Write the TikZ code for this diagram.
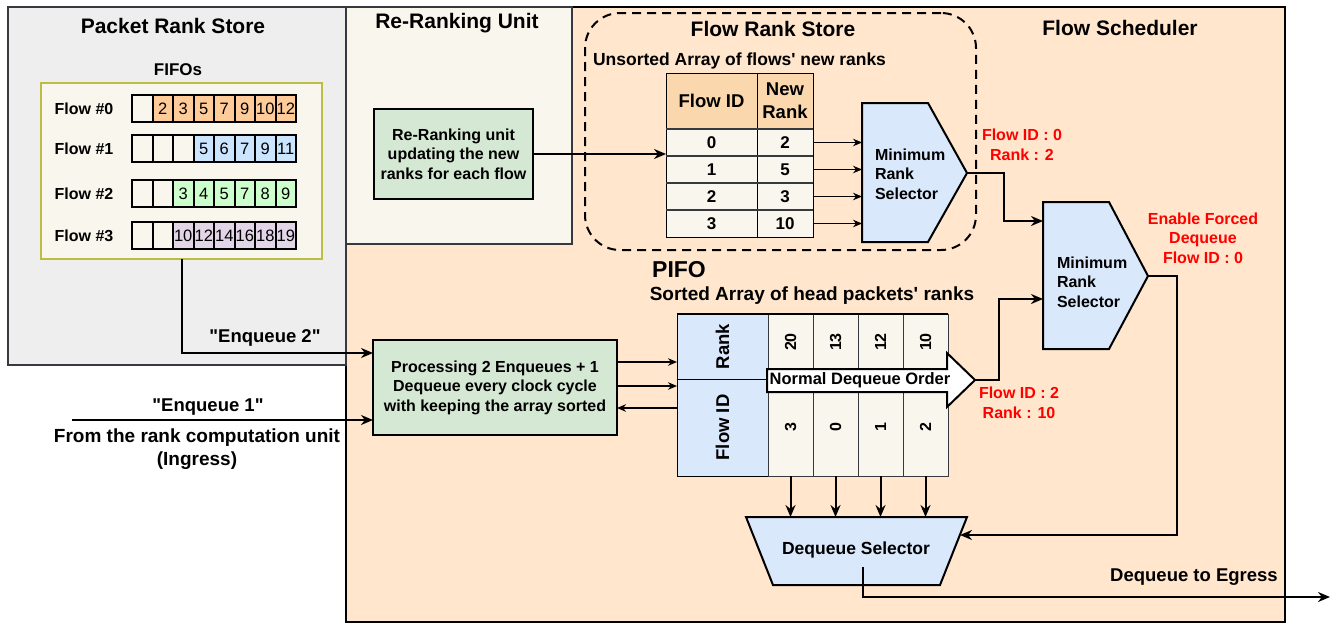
\documentclass[tikz,border=0pt]{standalone}
\usepackage{fontspec}
\setmainfont{Liberation Sans}
\usetikzlibrary{arrows.meta,calc}

\definecolor{prsfill}{HTML}{EEEEEE}
\definecolor{edge}{HTML}{36393D}
\definecolor{cream}{HTML}{F9F7ED}
\definecolor{sched}{HTML}{FFE6CC}
\definecolor{mint}{HTML}{D5E8D4}
\definecolor{sky}{HTML}{DAE8FC}
\definecolor{peach}{HTML}{FAD7AC}
\definecolor{cor}{HTML}{FFCC99}
\definecolor{cbl}{HTML}{CCE5FF}
\definecolor{cgr}{HTML}{CCFFCC}
\definecolor{cpu}{HTML}{E1D5E7}
\definecolor{olivebd}{HTML}{BDBD45}
\definecolor{alert}{HTML}{FF0000}

\begin{document}
\begin{tikzpicture}[x=1pt,y=-1pt,
  every node/.style={inner sep=0pt, outer sep=0pt},
  wall/.style={draw=edge, line width=2pt},
  title/.style={font=\bfseries\fontsize{21}{25}\selectfont},
  lbl/.style={font=\bfseries\fontsize{16}{19.5}\selectfont, align=center},
  lblL/.style={font=\bfseries\fontsize{18.5}{23}\selectfont, align=center},
  alertlbl/.style={lbl, text=alert},
  fcell/.style={draw=black, line width=2pt, minimum width=20.5pt, minimum height=27pt,
                font=\fontsize{16.5}{19}\selectfont},
  tcell/.style={draw=black, line width=1pt, fill=cream, minimum height=27pt,
                font=\bfseries\fontsize{17}{20}\selectfont, anchor=north west},
  arr/.style={line width=2pt, -{Stealth[length=12pt,width=10pt]}},
  tarr/.style={line width=1.2pt, -{Stealth[length=9pt,width=7.5pt]}},
]
\useasboundingbox (0,0) rectangle (1338,625);

% ---- containers ----
\node[draw=black, line width=2.5pt, fill=sched, minimum width=939pt, minimum height=615pt,
      anchor=north west] (fs) at (346,7) {};
\node[wall, fill=prsfill, minimum width=338pt, minimum height=358pt, anchor=north west] (prs) at (8,7) {};
\node[wall, fill=cream, minimum width=226pt, minimum height=237pt, anchor=north west] (rru) at (346,7) {};

\node[title] (prst) at (173,26) {Packet Rank Store};
\node[title] (rrut) at (457,23) {Re-Ranking Unit};
\node[title] (fst) at (1120,28) {Flow Scheduler};

% ---- packet rank store: per-flow FIFOs ----
\node[font=\bfseries\fontsize{17}{20}\selectfont] (fifot) at (178,70) {FIFOs};
\node[draw=olivebd, line width=1.2pt, fill=cream, minimum width=281pt, minimum height=176pt,
      anchor=north west] (fifo) at (41,83) {};
\foreach \row/\yy/\cells in {
  0/95/{cream/{},cor/2,cor/3,cor/5,cor/7,cor/9,cor/10,cor/12},
  1/135/{cream/{},cream/{},cream/{},cbl/5,cbl/6,cbl/7,cbl/9,cbl/11},
  2/180/{cream/{},cream/{},cgr/3,cgr/4,cgr/5,cgr/7,cgr/8,cgr/9},
  3/222/{cream/{},cream/{},cpu/10,cpu/12,cpu/14,cpu/16,cpu/18,cpu/19}}{
  \node[lbl] (fl\row) at (84,\yy+14) {Flow \#\row};
  \foreach \c/\t [count=\i from 0] in \cells {
    \node[fcell, fill=\c] (f\row-\i) at ({142.25+20.5*\i},\yy+13.5) {\t};
  }
}

% ---- re-ranking unit ----
\node[draw=black, line width=2pt, fill=mint, minimum width=159pt, minimum height=90pt, lbl]
  (rr) at (453.5,154) {Re-Ranking unit\\updating the new\\ranks for each flow};

% ---- flow rank store ----
\node[draw=black, line width=2pt, dash pattern=on 9pt off 6pt, rounded corners=35pt,
      minimum width=391pt, minimum height=237pt, anchor=north west] (frs) at (585,13) {};
\node[title] (frst) at (773,29) {Flow Rank Store};
\node[font=\bfseries\fontsize{17.5}{20}\selectfont, anchor=west] (frss) at (593,61)
  {Unsorted Array of flows\textquotesingle{} new ranks};

\node[draw=black, line width=1pt, fill=peach, minimum width=91pt, minimum height=56pt,
      anchor=north west, lblL] (h1) at (666,73) {Flow ID};
\node[draw=black, line width=1pt, fill=peach, minimum width=56pt, minimum height=56pt,
      anchor=north west, lblL] (h2) at (757,73) {New\\Rank};
\foreach \id/\rk [count=\i from 0] in {0/2,1/5,2/3,3/10}{
  \node[tcell, minimum width=91pt] (ra\i) at (666,129+27*\i) {\id};
  \node[tcell, minimum width=56pt] (rb\i) at (757,129+27*\i) {\rk};
  \draw[line width=1.8pt, edge] (ra\i.north west) -- (rb\i.north east);
}

% minimum rank selector (flow ranks)
\coordinate (s1nw) at (862,103);
\coordinate (s1tip) at (967,173);
\draw[line width=2pt, fill=sky] (s1nw) -- (928,103) -- (s1tip) -- (928,242) -- (862,242) -- cycle;
\node[lbl, align=left, anchor=west] (s1txt) at (875,174) {Minimum\\Rank\\Selector};
\foreach \i in {0,...,3}{
  \draw[tarr] (rb\i.east) -- (rb\i.east -| s1nw);
}
\draw[arr] (rr.east) -- (rr.east -| ra0.west);

% minimum rank selector (final)
\coordinate (s2in1) at (1043,221);
\coordinate (s2in2) at (1043,299);
\coordinate (s2tip) at (1148,276);
\draw[line width=2pt, fill=sky] (1043,202) -- (1109,202) -- (s2tip) -- (1109,349) -- (1043,349) -- cycle;
\node[lbl, align=left, anchor=west] (s2txt) at (1057,282) {Minimum\\Rank\\Selector};

\node[alertlbl] (l1) at (1022,145) {Flow ID : 0\\Rank : 2};
\node[alertlbl] (l2) at (1203,238) {Enable Forced\\Dequeue\\Flow ID : 0};
\node[alertlbl] (l3) at (1019,403) {Flow ID : 2\\Rank : 10};

% ---- PIFO ----
\node[font=\bfseries\fontsize{23}{27}\selectfont] (pifot) at (679,270) {PIFO};
\node[font=\bfseries\fontsize{19}{23}\selectfont] (pifos) at (812,296)
  {Sorted Array of head packets\textquotesingle{} ranks};

\node[draw=black, line width=1pt, fill=sky, minimum width=91pt, minimum height=65pt,
      anchor=north west] (ph1) at (677,314) {};
\node[draw=black, line width=1pt, fill=sky, minimum width=91pt, minimum height=97pt,
      anchor=north west] (ph2) at (677,379) {};
\node[lblL, rotate=90] (ph1t) at (ph1) {Rank};
\node[lblL, rotate=90] (ph2t) at (ph2) {Flow ID};
\foreach \r/\f [count=\i from 0] in {20/3,13/0,12/1,10/2}{
  \node[draw=edge, line width=1pt, fill=cream, minimum width=45pt, minimum height=162pt,
        anchor=north west] (pc\i) at (768+45*\i,314) {};
  \node[lbl, rotate=90] (pr\i) at ($(pc\i.north)+(0,28)$) {\r};
  \node[lbl, rotate=90] (pf\i) at ($(pc\i.north)+(0,113)$) {\f};
}
\draw[line width=2pt] (ph1.north west) -- (pc3.north east);

\coordinate (ptip) at (975,380);
\draw[line width=2pt, fill=white] (767,369) -- (947,369) -- (947,353) -- (ptip) -- (947,407)
  -- (947,392) -- (767,392) -- cycle;
\node[font=\bfseries\fontsize{16.5}{20}\selectfont] (ndo) at (860,380.5) {Normal Dequeue Order};

\draw[arr] (s1tip) -- ++(37,0) |- (s2in1);
\draw[arr] (ptip) -- ++(24,0) |- (s2in2);

% ---- enqueue / dequeue processing ----
\node[draw=black, line width=2pt, fill=mint, minimum width=244pt, minimum height=95pt, lbl]
  (proc) at (495,387.5) {Processing 2 Enqueues + 1\\Dequeue every clock cycle\\with keeping the array sorted};
\coordinate (pin1) at (677,362);
\coordinate (pin2) at (677,386);
\coordinate (pout) at (677,408);
\draw[tarr] (proc.east |- pin1) -- (pin1);
\draw[tarr] (proc.east |- pin2) -- (pin2);
\draw[tarr] (pout) -- (proc.east |- pout);

\draw[arr] (fifo.south) |- ($(proc.north west)+(0,13)$);
\node[lblL] (enq2) at (265,338) {\textquotedbl Enqueue 2\textquotedbl};

\coordinate (ing) at (72,420);
\draw[arr] (ing) -- (proc.west |- ing);
\node[lblL] (enq1) at (208,407) {\textquotedbl Enqueue 1\textquotedbl};
\node[font=\bfseries\fontsize{19}{23}\selectfont, align=center] (ingt) at (197,449.5)
  {From the rank computation unit\\(Ingress)};

% ---- dequeue selector ----
\coordinate (dqtop) at (856,517);
\coordinate (dqin) at (960,535);
\coordinate (dqout) at (863,567);
\coordinate (egress) at (1330,597);
\draw[line width=2pt, fill=sky] (746,517) -- (967,517) -- (940,585) -- (773,585) -- cycle;
\node[font=\bfseries\fontsize{17.5}{21}\selectfont] (dqt) at (856,550) {Dequeue Selector};
\foreach \i in {0,...,3}{
  \draw[arr] (pc\i.south) -- (pc\i.south |- dqtop);
}
\draw[arr] (s2tip) -- ++(29,0) |- (dqin);
\draw[arr] (dqout) |- (egress);
\node[lblL] (egt) at (1194,577) {Dequeue to Egress};

\end{tikzpicture}
\end{document}
